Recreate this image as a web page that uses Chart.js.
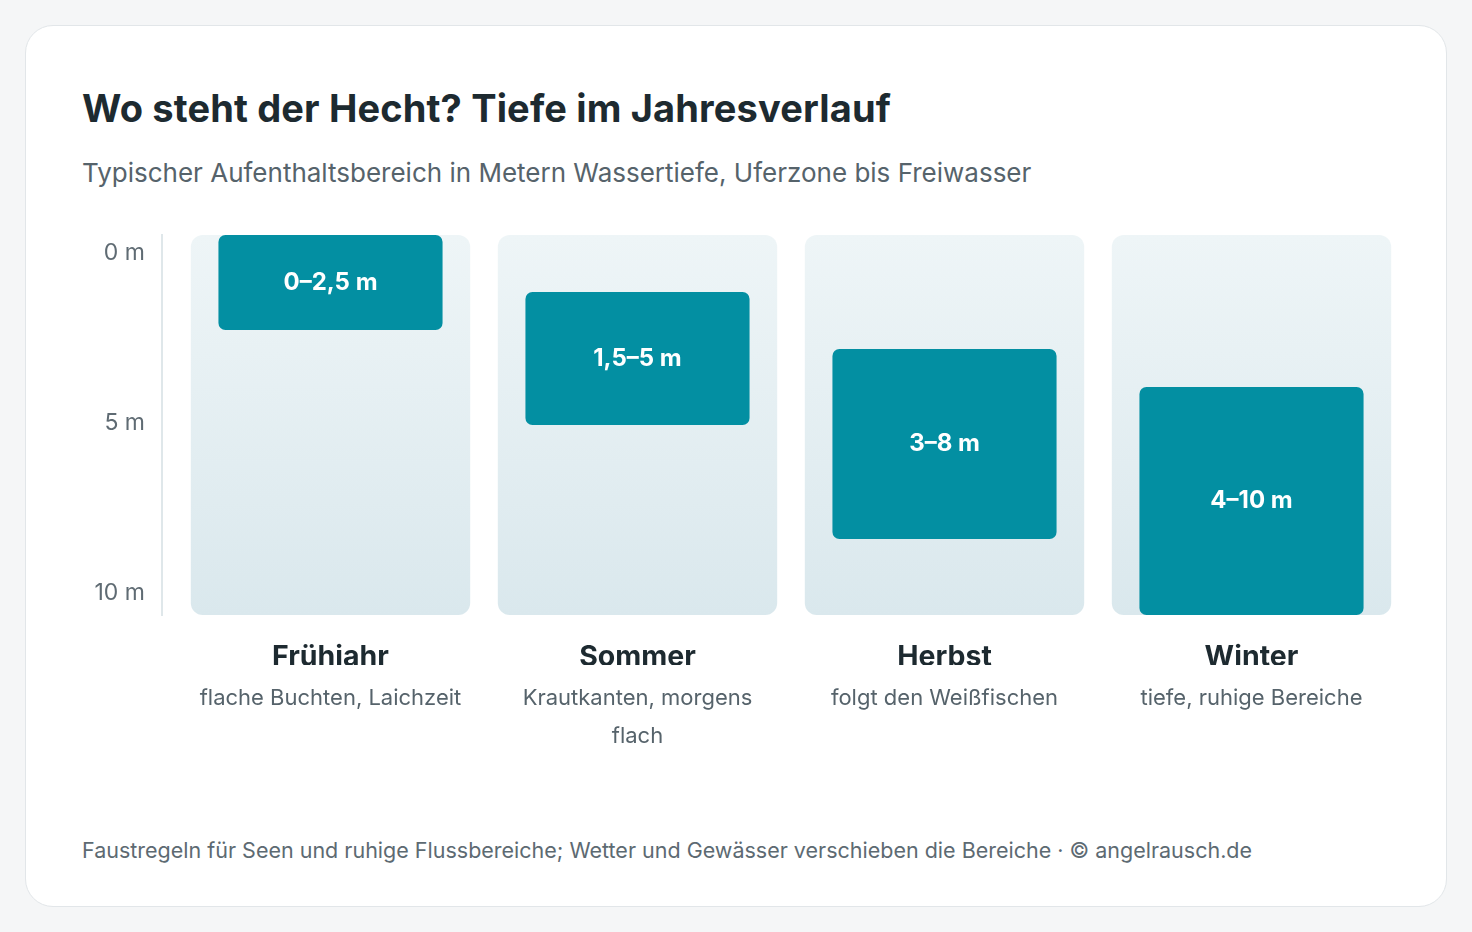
<!DOCTYPE html>
<html lang="de">
<head>
<meta charset="utf-8">
<title>Wo steht der Hecht?</title>
<script src="https://cdn.jsdelivr.net/npm/chart.js@4/dist/chart.umd.min.js"></script>
<style>
    html, body { margin: 0; padding: 0; }
    body {
        width: 1472px;
        height: 932px;
        background: #f5f6f7;
        font-family: Inter, "Noto Sans", sans-serif;
        position: relative;
        overflow: hidden;
    }
    .card {
        position: absolute;
        left: 25px; top: 25px;
        width: 1420px; height: 880px;
        background: #fff;
        border: 1px solid #e2e6e9;
        border-radius: 28px;
    }
    h1 {
        position: absolute;
        left: 56px; top: 59px;
        margin: 0;
        font-size: 38px;
        font-weight: 700;
        color: #1d2a30;
        letter-spacing: 0.15px;
    }
    .subtitle {
        position: absolute;
        left: 56px; top: 131px;
        margin: 0;
        font-size: 26px;
        color: #56636b;
    }
    .chart-box {
        position: absolute;
        left: 35px; top: 190px;
        width: 1380px; height: 560px;
    }
    .footer {
        position: absolute;
        left: 56px; top: 811px;
        margin: 0;
        font-size: 21.5px;
        color: #5d6a72;
    }
</style>
</head>
<body>
<div class="card">
    <h1>Wo steht der Hecht? Tiefe im Jahresverlauf</h1>
    <p class="subtitle">Typischer Aufenthaltsbereich in Metern Wassertiefe, Uferzone bis Freiwasser</p>
    <div class="chart-box"><canvas id="depthChart"></canvas></div>
    <p class="footer">Faustregeln für Seen und ruhige Flussbereiche; Wetter und Gewässer verschieben die Bereiche · © angelrausch.de</p>
</div>

<script>
// Data
const seasons = ['Frühjahr', 'Sommer', 'Herbst', 'Winter'];
const notes = ['flache Buchten, Laichzeit', ['Krautkanten, morgens', 'flach'], 'folgt den Weißfischen', 'tiefe, ruhige Bereiche'];
const depthFrom = [0, 1.5, 3, 4];
const depthTo = [2.5, 5, 8, 10];
const maxDepth = 10;
const depthTicks = [0, 5, 10];

const TEAL = '#038fa2';
const FONT = 'Inter, "Noto Sans", sans-serif';
const fmt = v => v.toLocaleString('de-DE');

// white range text in the middle of each bar
const rangeLabels = {
    id: 'rangeLabels',
    afterDatasetsDraw(chart) {
        const ctx = chart.ctx;
        const meta = chart.getDatasetMeta(1);
        ctx.save();
        ctx.fillStyle = '#ffffff';
        ctx.font = '700 24px ' + FONT;
        ctx.textAlign = 'center';
        ctx.textBaseline = 'middle';
        meta.data.forEach((bar, i) => {
            const mid = (bar.y + bar.base) / 2;
            ctx.fillText(`${fmt(depthFrom[i])}–${fmt(depthTo[i])} m`, bar.x, mid);
        });
        ctx.restore();
    }
};

function trackGradient(context) {
    const area = context.chart.chartArea;
    if (!area) return '#e4eef1';
    const g = context.chart.ctx.createLinearGradient(0, area.top, 0, area.bottom);
    g.addColorStop(0, '#eef5f7');
    g.addColorStop(1, '#dae8ed');
    return g;
}

new Chart(document.getElementById('depthChart'), {
    type: 'bar',
    data: {
        labels: seasons,
        datasets: [
            {
                label: 'Wassertiefe',
                data: seasons.map(() => [0, maxDepth]),
                backgroundColor: trackGradient,
                borderRadius: 12,
                borderSkipped: false,
                barPercentage: 0.91,
                categoryPercentage: 1,
                grouped: false,
                order: 2
            },
            {
                label: 'Aufenthaltsbereich',
                data: depthFrom.map((v, i) => [v, depthTo[i]]),
                backgroundColor: TEAL,
                borderRadius: 7,
                borderSkipped: false,
                barPercentage: 0.73,
                categoryPercentage: 1,
                grouped: false,
                order: 1
            }
        ]
    },
    options: {
        responsive: true,
        maintainAspectRatio: false,
        animation: false,
        layout: { padding: { top: 19, right: 36, bottom: 0, left: 0 } },
        plugins: {
            legend: { display: false },
            tooltip: { enabled: false }
        },
        scales: {
            x: {
                type: 'category',
                position: 'bottom',
                offset: true,
                grid: { display: false },
                border: { display: false },
                ticks: {
                    padding: 17,
                    color: '#1d2a30',
                    font: { family: FONT, size: 28.5, weight: '700', lineHeight: 1.2 }
                },
                afterFit(scale) { scale.height = 50; }
            },
            x2: {
                type: 'category',
                position: 'bottom',
                labels: notes,
                offset: true,
                grid: { display: false },
                border: { display: false },
                ticks: {
                    padding: 6,
                    color: '#56636b',
                    maxRotation: 0,
                    font: { family: FONT, size: 22, lineHeight: '38px' }
                },
                afterFit(scale) { scale.height = 111; }
            },
            y: {
                reverse: true,
                min: 0,
                max: maxDepth,
                weight: 0,
                grid: { display: false },
                border: { display: false },
                ticks: { display: false },
                afterFit(scale) { scale.width = 15; scale.paddingTop = 0; scale.paddingBottom = 0; }
            },
            y2: {
                position: 'left',
                reverse: true,
                min: -0.53,
                max: maxDepth + 0.65,
                weight: 1,
                grid: { display: false },
                border: { display: true, color: '#dfe7ea', width: 2 },
                afterBuildTicks(scale) { scale.ticks = depthTicks.map(v => ({ value: v })); },
                ticks: {
                    padding: 9,
                    color: '#5f6b73',
                    font: { family: FONT, size: 23 },
                    callback: v => `${v} m`
                },
                afterFit(scale) { scale.width = 101; scale.paddingTop = 0; scale.paddingBottom = 0; }
            }
        }
    },
    plugins: [rangeLabels]
});
</script>
</body>
</html>
